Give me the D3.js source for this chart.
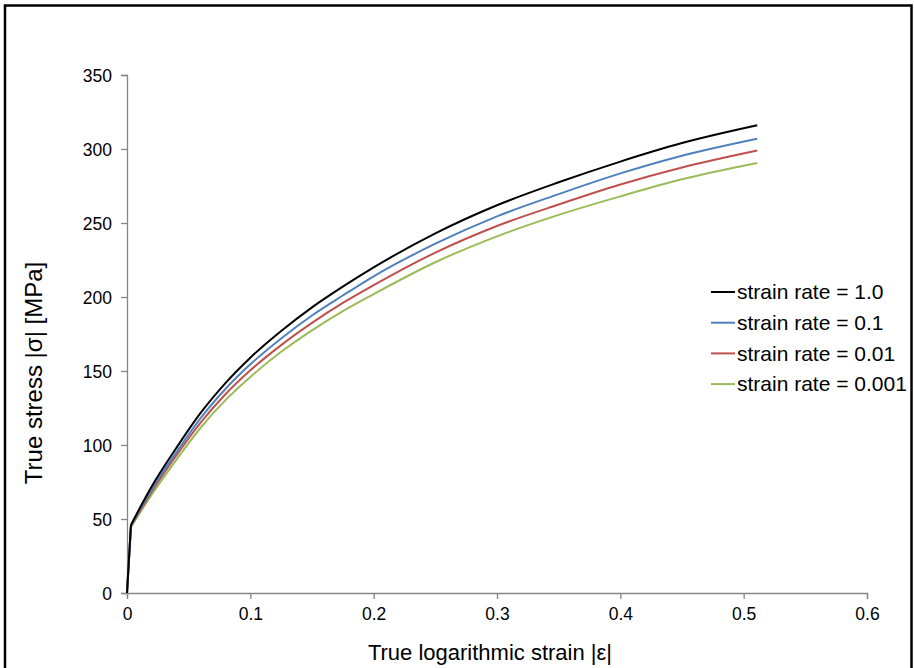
<!DOCTYPE html>
<html><head><meta charset="utf-8">
<script src="https://cdn.jsdelivr.net/npm/d3@7"></script>
<style>body{margin:0;background:#fff;}svg{display:block;font-family:Arial,"Liberation Sans",sans-serif;}</style>
</head><body>
<script>
const strain = [0,0.0032,0.02,0.04,0.06,0.08,0.1,0.125,0.15,0.175,0.2,0.25,0.3,0.35,0.4,0.45,0.511];
const stressRate1 = [0,46,72,98,122,142,159,177,193,207,220,243,262,277.5,291.5,304,316];
const stressRate01 = [0,45.5,70,95,118.5,138,154.5,172,187.5,201,214,236,254.5,269.5,283.5,295.5,307];
const stressRate001 = [0,45,68.5,93,115.5,134.5,150.5,167.5,182.5,196,208,230,248,262.5,276,287.5,299];
const stressRate0001 = [0,44.5,66.5,90,112,130.5,146,163,177.5,190.5,202,223.5,241,255.5,268,279.5,290.5];
const seriesNames = ["strain rate = 1.0","strain rate = 0.1","strain rate = 0.01","strain rate = 0.001"];
const seriesColors = ["#000000","#4f81bd","#c0504d","#9bbb59"];
const xTicks = [0,0.1,0.2,0.3,0.4,0.5,0.6];
const yTicks = [0,50,100,150,200,250,300,350];
const xTitle = "True logarithmic strain |ε|";
const yTitle = "True stress |σ| [MPa]";

const W=914,H=668;
const svg=d3.select("body").append("svg").attr("width",W).attr("height",H);
svg.append("rect").attr("x",5).attr("y",5.5).attr("width",906.5).attr("height",670).attr("fill","#fff").attr("stroke","#000").attr("stroke-width",2.5);

const x=d3.scaleLinear().domain([0,0.6]).range([127,867]);
const y=d3.scaleLinear().domain([0,350]).range([593,75]);
const axisColor="#868686";

const gx=svg.append("g").attr("transform","translate(0,593)")
  .call(d3.axisBottom(x).tickValues(xTicks).tickFormat(d=>d===0?"0":String(d)).tickSizeOuter(0).tickSize(6).tickPadding(9));
const gy=svg.append("g").attr("transform","translate(127,0)")
  .call(d3.axisLeft(y).tickValues(yTicks).tickFormat(d3.format("d")).tickSizeOuter(0).tickSize(6).tickPadding(9));
[gx,gy].forEach(g=>{
  g.select(".domain").attr("stroke",axisColor).attr("stroke-width",1.3);
  g.selectAll(".tick line").attr("stroke",axisColor).attr("stroke-width",1.3);
  g.selectAll(".tick text").attr("fill","#000").attr("font-size",17.5).attr("font-family","Arial, 'Liberation Sans', sans-serif");
});
gy.selectAll(".tick text").attr("dy","0.35em");

const all=[stressRate1,stressRate01,stressRate001,stressRate0001];
const smooth=d3.line().x(d=>x(d[0])).y(d=>y(d[1])).curve(d3.curveMonotoneX);
function pathFor(vals){
  const pts=strain.map((s,i)=>[s,vals[i]]);
  const rest=smooth(pts.slice(1));
  return "M"+x(pts[0][0])+","+y(pts[0][1])+"L"+rest.slice(1);
}
for(let k=all.length-1;k>=0;k--){
  svg.append("path").attr("d",pathFor(all[k])).attr("fill","none")
    .attr("stroke",seriesColors[k]).attr("stroke-width",2).attr("stroke-linejoin","round");
}

const leg=svg.append("g");
seriesNames.forEach((n,i)=>{
  const cy=292+i*30.7;
  leg.append("line").attr("x1",711).attr("x2",735).attr("y1",cy).attr("y2",cy).attr("stroke",seriesColors[i]).attr("stroke-width",2);
  leg.append("text").attr("x",737).attr("y",cy).attr("dy","0.35em").attr("font-size",21).attr("fill","#000").text(n);
});

svg.append("text").attr("x",490).attr("y",660).attr("text-anchor","middle").attr("font-size",22).attr("fill","#000").text(xTitle);
svg.append("text").attr("transform","translate(42,373) rotate(-90)").attr("text-anchor","middle").attr("font-size",24).attr("fill","#000").text(yTitle);
</script>
</body></html>
